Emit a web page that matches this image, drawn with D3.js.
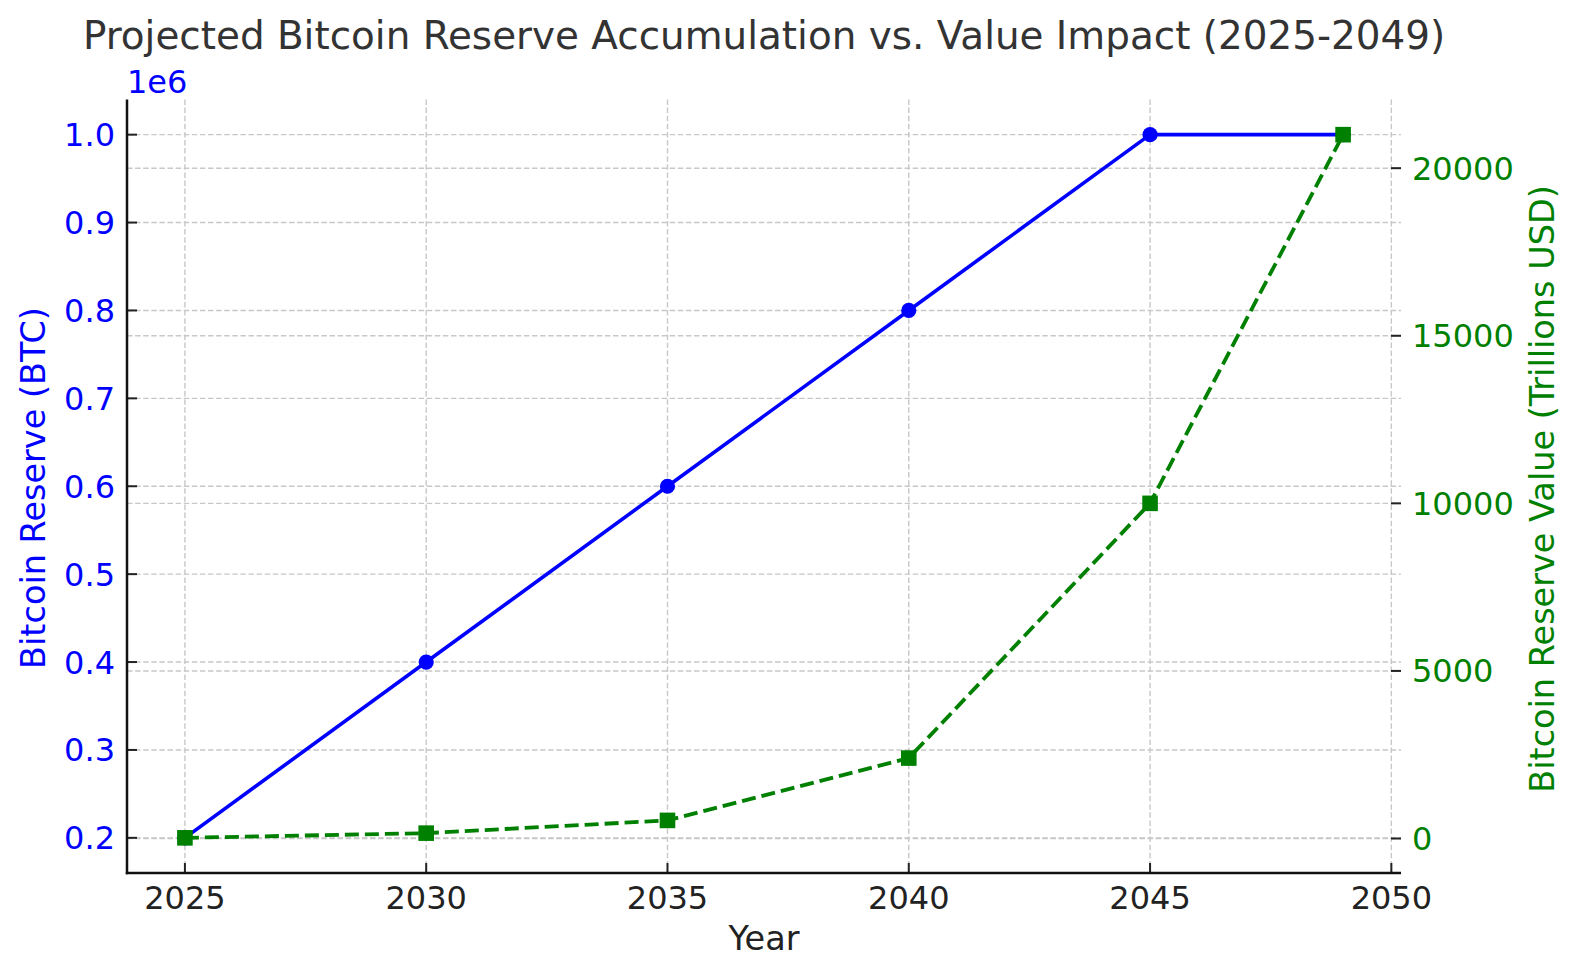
<!DOCTYPE html>
<html><head><meta charset="utf-8">
<script src="https://cdn.jsdelivr.net/npm/d3@7"></script>
<style>html,body{margin:0;padding:0;background:#fff}svg{display:block}text{font-family:"DejaVu Sans",sans-serif}</style>
</head><body><svg id="c" width="1580" height="979"></svg>
<script>
const years = [2025, 2030, 2035, 2040, 2045, 2049];
const reserveBTC = [200000, 400000, 600000, 800000, 1000000, 1000000];
const reserveValue = [20, 160, 540, 2400, 10000, 21000];
const xTicks = [2025, 2030, 2035, 2040, 2045, 2050];
const leftTicks = [200000, 300000, 400000, 500000, 600000, 700000, 800000, 900000, 1000000];
const rightTicks = [0, 5000, 10000, 15000, 20000];

const svg = d3.select('#c');
const L = 127, R = 1401, T = 99.5, B = 873;
function pad(ext){const d=ext[1]-ext[0];return [ext[0]-0.05*d, ext[1]+0.05*d];}
const x = d3.scaleLinear().domain(pad(d3.extent(years))).range([L, R]);
const yL = d3.scaleLinear().domain(pad(d3.extent(reserveBTC))).range([B, T]);
const yR = d3.scaleLinear().domain(pad(d3.extent(reserveValue))).range([B, T]);

const gridStyle = g => g.attr('stroke', '#c8c8c8').attr('stroke-width', 1.4).attr('stroke-dasharray', '5.5,2.6');
const grid = svg.append('g');
xTicks.forEach(v => grid.append('line').attr('x1', x(v)).attr('x2', x(v)).attr('y1', T).attr('y2', B).call(gridStyle));
leftTicks.forEach(v => grid.append('line').attr('x1', L).attr('x2', R).attr('y1', yL(v)).attr('y2', yL(v)).call(gridStyle));
rightTicks.forEach(v => grid.append('line').attr('x1', L).attr('x2', R).attr('y1', yR(v)).attr('y2', yR(v)).call(gridStyle));

// blue series
svg.append('path').datum(years.map((y,i)=>[y,reserveBTC[i]]))
  .attr('fill','none').attr('stroke','#0000ff').attr('stroke-width',3.6)
  .attr('stroke-linejoin','round')
  .attr('d', d3.line().x(d=>x(d[0])).y(d=>yL(d[1])));
svg.append('g').selectAll('circle').data(years).join('circle')
  .attr('cx',(d)=>x(d)).attr('cy',(d,i)=>yL(reserveBTC[i])).attr('r',7.6).attr('fill','#0000ff');

// green series
svg.append('path').datum(years.map((y,i)=>[y,reserveValue[i]]))
  .attr('fill','none').attr('stroke','#008000').attr('stroke-width',3.8)
  .attr('stroke-dasharray','14,6')
  .attr('d', d3.line().x(d=>x(d[0])).y(d=>yR(d[1])));
svg.append('g').selectAll('rect').data(years).join('rect')
  .attr('x',d=>x(d)-7.8).attr('y',(d,i)=>yR(reserveValue[i])-7.8).attr('width',15.6).attr('height',15.6).attr('fill','#008000');

// axes
const tk = svg.append('g');
const fs = 32, lfs = 33.5;
xTicks.forEach(v => {
  tk.append('line').attr('x1',x(v)).attr('x2',x(v)).attr('y1',B).attr('y2',B-10).attr('stroke','#222').attr('stroke-width',2);
  tk.append('text').attr('x',x(v)).attr('y',B+36).attr('text-anchor','middle').attr('font-size',fs).attr('fill','#222').text(v);
});
leftTicks.forEach(v => {
  tk.append('line').attr('x1',L).attr('x2',L+10).attr('y1',yL(v)).attr('y2',yL(v)).attr('stroke','#222').attr('stroke-width',2);
  tk.append('text').attr('x',L-12).attr('y',yL(v)).attr('dy','0.36em').attr('text-anchor','end').attr('font-size',fs).attr('fill','#0000ff').text((v/1e6).toFixed(1));
});
rightTicks.forEach(v => {
  tk.append('line').attr('x1',R).attr('x2',R-10).attr('y1',yR(v)).attr('y2',yR(v)).attr('stroke','#222').attr('stroke-width',2);
  tk.append('text').attr('x',R+11).attr('y',yR(v)).attr('dy','0.36em').attr('text-anchor','start').attr('font-size',fs).attr('fill','#008000').text(v);
});
svg.append('line').attr('x1',L).attr('x2',L).attr('y1',T).attr('y2',B+1.2).attr('stroke','#111').attr('stroke-width',2.5);
svg.append('line').attr('x1',L-1.2).attr('x2',R).attr('y1',B).attr('y2',B).attr('stroke','#111').attr('stroke-width',2.5);

svg.append('text').attr('x',127).attr('y',93).attr('font-size',fs).attr('fill','#0000ff').text('1e6');
svg.append('text').attr('x',(L+R)/2).attr('y',950).attr('text-anchor','middle').attr('font-size',lfs).attr('fill','#222').text('Year');
svg.append('text').attr('transform','translate(45,488) rotate(-90)').attr('text-anchor','middle').attr('font-size',lfs).attr('fill','#0000ff').text('Bitcoin Reserve (BTC)');
svg.append('text').attr('transform','translate(1542,489) rotate(-90)').attr('text-anchor','middle').attr('font-size',lfs).attr('fill','#008000').attr('dy','0.36em').text('Bitcoin Reserve Value (Trillions USD)');
svg.append('text').attr('x',(L+R)/2).attr('y',49).attr('text-anchor','middle').attr('font-size',38.9).attr('fill','#333').text('Projected Bitcoin Reserve Accumulation vs. Value Impact (2025-2049)');
</script></body></html>
